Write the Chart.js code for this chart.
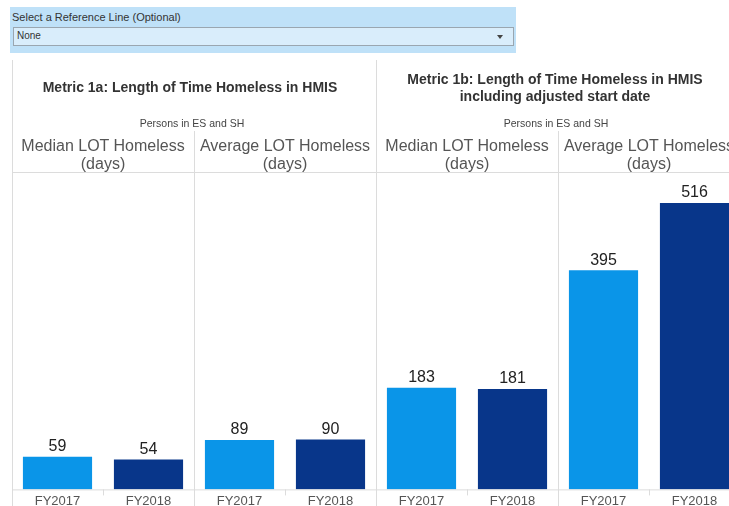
<!DOCTYPE html>
<html lang="en">
<head>
<meta charset="UTF-8"/>
<title>Length of Time Homeless</title>
<script src="https://cdn.jsdelivr.net/npm/chart.js@4/dist/chart.umd.min.js"></script>
<style>
  *{box-sizing:border-box;margin:0;padding:0}
  html,body{width:729px;height:506px;overflow:hidden;background:#fff;font-family:'Liberation Sans',Arial,sans-serif}
  .abs{position:absolute}
  .ref{left:10px;top:7px;width:506px;height:46px;background:#bfe1f8}
  .ref .lbl{position:absolute;left:2px;top:4px;font-size:11px;color:#333}
  .ref .sel{position:absolute;left:3px;top:20px;width:501px;height:19px;background:#d9edfb;border:1px solid #9aa6b0}
  .ref .sel span{position:absolute;left:3px;top:2px;font-size:10px;color:#333}
  .ref .sel i{position:absolute;right:10px;top:7px;width:0;height:0;border-left:3px solid transparent;border-right:3px solid transparent;border-top:4px solid #444}
  .metric{font-weight:bold;font-size:14px;color:#333;text-align:center;line-height:17px}
  .sub{font-size:10.5px;color:#444;text-align:center}
  .col{font-size:16px;color:#555;text-align:center;line-height:18px}
  #wrap{position:absolute;left:0;top:0;width:740px;height:520px}
</style>
</head>
<body>
<div id="wrap"><canvas id="c" width="740" height="520"></canvas></div>

<div class="abs ref"><div class="lbl">Select a Reference Line (Optional)</div><div class="sel"><span>None</span><i></i></div></div>

<div class="abs metric" style="left:8px;width:364px;top:79px">Metric 1a: Length of Time Homeless in HMIS</div>
<div class="abs metric" style="left:373px;width:364px;top:71px">Metric 1b: Length of Time Homeless in HMIS<br>including adjusted start date</div>
<div class="abs sub" style="left:10px;width:364px;top:117px">Persons in ES and SH</div>
<div class="abs sub" style="left:374px;width:364px;top:117px">Persons in ES and SH</div>

<div class="abs col" style="left:12px;width:182px;top:137px">Median LOT Homeless<br>(days)</div>
<div class="abs col" style="left:194px;width:182px;top:137px">Average LOT Homeless<br>(days)</div>
<div class="abs col" style="left:376px;width:182px;top:137px">Median LOT Homeless<br>(days)</div>
<div class="abs col" style="left:558px;width:182px;top:137px">Average LOT Homeless<br>(days)</div>

<script>
// data
const panels = ['Median 1a', 'Average 1a', 'Median 1b', 'Average 1b'];
const years  = ['FY2017', 'FY2018'];
const fy2017 = [59, 89, 183, 395];
const fy2018 = [54, 90, 181, 516];

const C17 = '#0a95e8', C18 = '#08368a', LINE = '#dcdcdc';

const labels = [], values = [], colors = [];
panels.forEach((p, i) => {
  labels.push(years[0]); values.push(fy2017[i]); colors.push(C17);
  labels.push(years[1]); values.push(fy2018[i]); colors.push(C18);
});

// panel separators, small ticks and value labels
const decor = {
  id: 'decor',
  afterDraw(chart) {
    const {ctx, chartArea: a, scales: {x}} = chart;
    const step = x.getPixelForTick(1) - x.getPixelForTick(0);
    ctx.save();
    ctx.strokeStyle = LINE; ctx.lineWidth = 1;
    const vline = (px, y0) => { ctx.beginPath(); ctx.moveTo(Math.round(px) + 0.5, y0); ctx.lineTo(Math.round(px) + 0.5, chart.height); ctx.stroke(); };
    vline(a.left, 60);
    for (let i = 1; i < labels.length; i++) {
      const px = x.getPixelForTick(i) - step / 2;
      if (i % 2 === 0) vline(px, i === 4 ? 60 : 131);
      else { ctx.beginPath(); ctx.moveTo(Math.round(px) + 0.5, a.bottom); ctx.lineTo(Math.round(px) + 0.5, a.bottom + 6); ctx.stroke(); }
    }
    ctx.beginPath(); ctx.moveTo(a.left, 172.5); ctx.lineTo(chart.width, 172.5); ctx.stroke();
    ctx.beginPath(); ctx.moveTo(a.left, a.bottom + 0.5); ctx.lineTo(chart.width, a.bottom + 0.5); ctx.stroke();

    ctx.fillStyle = '#222'; ctx.font = '16px "Liberation Sans", Arial, sans-serif';
    ctx.textAlign = 'center'; ctx.textBaseline = 'bottom';
    chart.getDatasetMeta(0).data.forEach((bar, i) => {
      ctx.fillText(values[i], bar.x, bar.y - 2);
    });
    ctx.restore();
  }
};

new Chart(document.getElementById('c'), {
  type: 'bar',
  data: { labels, datasets: [{ data: values, backgroundColor: colors, borderWidth: 0,
    categoryPercentage: 1, barPercentage: 0.76 }] },
  options: {
    responsive: false, animation: false,
    layout: { padding: { top: 172, left: 12, right: 0, bottom: 7 } },
    plugins: { legend: { display: false }, tooltip: { enabled: false } },
    scales: {
      x: { grid: { display: false, drawTicks: false }, border: { display: false },
           ticks: { color: '#555', padding: 4, font: { size: 13, family: '"Liberation Sans", Arial, sans-serif' } } },
      y: { display: false, min: 0, max: 572 }
    }
  },
  plugins: [decor]
});
</script>
</body>
</html>
